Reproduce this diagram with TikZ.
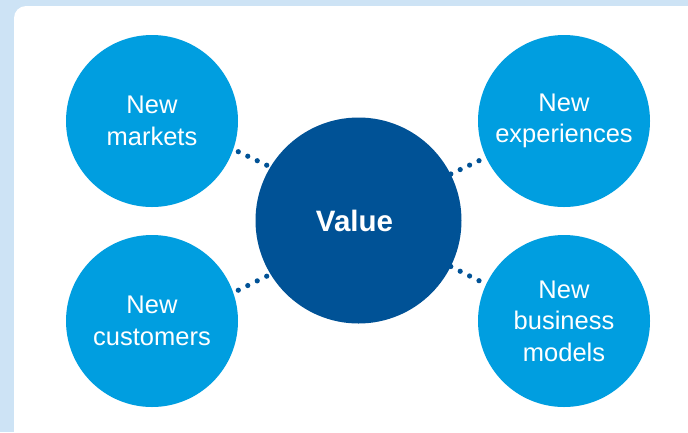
\documentclass[tikz,border=0pt]{standalone}
\usepackage{fontspec}
\setmainfont{Liberation Sans}
\usetikzlibrary{calc}
\definecolor{bgblue}{RGB}{205,227,245}
\definecolor{lightblue}{RGB}{0,158,224}
\definecolor{darkblue}{RGB}{0,82,150}
\tikzset{
  smallc/.style={circle, fill=lightblue, minimum size=172pt, inner sep=0pt,
    text=white, align=center, font=\fontsize{25.5}{31.5}\selectfont},
  bigc/.style={circle, fill=darkblue, minimum size=206pt, inner sep=0pt,
    text=white, font=\fontsize{29.5}{32}\selectfont\bfseries},
}
\begin{document}
\begin{tikzpicture}[x=1pt,y=-1pt]
\useasboundingbox (0,0) rectangle (688,432);
\fill[bgblue] (0,0) rectangle (688,432);
\fill[white, rounded corners=12pt] (14,6) rectangle (700,450);
% dot connector endpoints
\coordinate (tla) at (238.3,151.7); \coordinate (tlb) at (266.7,165.2);
\coordinate (tra) at (479,160.7);   \coordinate (trb) at (450.8,174.0);
\coordinate (bla) at (238.3,290.2); \coordinate (blb) at (266.7,276.2);
\coordinate (bra) at (479,280.7);   \coordinate (brb) at (450.8,266.5);
\foreach \a/\b in {tla/tlb,tra/trb,bla/blb,bra/brb}{
  \foreach \t in {0,0.3333,0.6667,1}{
    \fill[darkblue] ($(\a)!\t!(\b)$) circle (2.6);
  }
}
\node[bigc] (c) at (358.5,220.5) {};
\node[text=white, font=\fontsize{29.5}{32}\selectfont\bfseries] (cv) at ($(c)+(-4,0)$) {Value};
\node[smallc] (tl) at (152,121) {New\\markets};
\node[smallc] (tr) at (564,121) {New\\experiences};
\node[smallc] (bl) at (152,321) {New\\customers};
\node[smallc] (br) at (564,321) {New\\business\\models};
\end{tikzpicture}
\end{document}
